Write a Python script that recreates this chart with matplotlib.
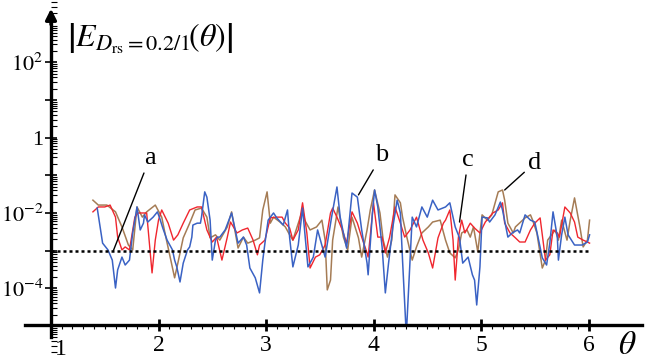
import numpy as np
import matplotlib.pyplot as plt
from matplotlib.ticker import FixedLocator, LogLocator, NullFormatter, FixedFormatter

plt.rcParams['font.family'] = ['Liberation Serif', 'DejaVu Serif']
plt.rcParams['mathtext.fontset'] = 'stix'

# curve data: theta and log10|E|
theta_blue = [1.43, 1.48, 1.53, 1.57, 1.60, 1.62, 1.66, 1.69, 1.73, 1.76, 1.80, 1.83, 1.86, 1.87, 1.90,
              1.95, 1.99, 2.01, 2.04, 2.08, 2.13, 2.15, 2.17, 2.20, 2.23, 2.27, 2.29, 2.31, 2.32, 2.36,
              2.39, 2.40, 2.43, 2.45, 2.48, 2.50, 2.53, 2.55, 2.57, 2.62, 2.68, 2.74, 2.79, 2.82, 2.85,
              2.90, 2.94, 2.97, 2.99, 3.02, 3.07, 3.10, 3.16, 3.20, 3.22, 3.25, 3.30, 3.34, 3.39, 3.44,
              3.48, 3.55, 3.61, 3.66, 3.69, 3.72, 3.75, 3.80, 3.85, 3.89, 3.94, 3.95, 3.99, 4.01, 4.04,
              4.08, 4.11, 4.14, 4.18, 4.22, 4.25, 4.27, 4.30, 4.31, 4.36, 4.40, 4.45, 4.50, 4.55, 4.60,
              4.67, 4.71, 4.76, 4.80, 4.83, 4.88, 4.92, 4.94, 4.96, 4.99, 5.01, 5.06, 5.08, 5.13, 5.18,
              5.20, 5.25, 5.29, 5.34, 5.36, 5.41, 5.46, 5.50, 5.53, 5.57, 5.61, 5.64, 5.67, 5.71, 5.72,
              5.75, 5.78, 5.81, 5.87, 5.94, 5.99, 6.01]
log_blue = [-1.87, -2.80, -2.98, -3.25, -3.99, -3.51, -3.17, -3.38, -3.25, -2.53, -1.84, -2.45, -2.27, -2.05, -2.24,
            -2.11, -1.97, -2.13, -2.40, -2.72, -2.98, -3.25, -3.43, -3.83, -3.33, -2.98, -2.90, -2.64, -2.32, -2.27,
            -2.27, -2.11, -1.44, -1.58, -2.19, -3.25, -2.72, -2.64, -2.64, -2.45, -2.00, -2.80, -2.64, -2.85, -3.46,
            -3.72, -4.12, -3.25, -2.80, -2.19, -2.00, -2.13, -2.32, -1.92, -2.66, -3.43, -2.85, -1.87, -3.43, -3.17,
            -2.45, -3.17, -2.11, -1.31, -2.11, -2.53, -2.93, -1.47, -1.58, -2.45, -3.33, -3.64, -2.00, -1.39, -1.84,
            -2.90, -4.12, -3.33, -2.37, -1.66, -2.00, -3.25, -4.96, -4.96, -2.11, -2.37, -1.84, -2.11, -1.66, -1.92,
            -1.84, -1.73, -2.37, -2.66, -3.33, -3.17, -3.64, -3.78, -4.44, -3.43, -2.11, -2.13, -2.24, -2.05, -1.71,
            -1.92, -2.64, -2.53, -2.45, -2.53, -2.05, -2.19, -2.24, -2.64, -3.19, -3.38, -2.80, -1.97, -2.64, -3.25,
            -2.58, -2.11, -2.58, -2.85, -2.85, -2.77, -2.58]

theta_red = [1.39, 1.44, 1.50, 1.55, 1.60, 1.62, 1.66, 1.69, 1.73, 1.78, 1.81, 1.85, 1.89, 1.94, 1.97,
             2.00, 2.03, 2.09, 2.14, 2.18, 2.23, 2.29, 2.36, 2.40, 2.45, 2.50, 2.54, 2.59, 2.64, 2.67,
             2.73, 2.78, 2.83, 2.88, 2.92, 2.94, 2.99, 3.04, 3.10, 3.15, 3.18, 3.22, 3.25, 3.30, 3.34,
             3.38, 3.41, 3.46, 3.50, 3.55, 3.60, 3.62, 3.66, 3.71, 3.75, 3.80, 3.85, 3.89, 3.94, 3.95,
             4.00, 4.04, 4.08, 4.11, 4.15, 4.20, 4.25, 4.29, 4.34, 4.40, 4.46, 4.51, 4.55, 4.60, 4.65,
             4.67, 4.71, 4.74, 4.76, 4.79, 4.82, 4.85, 4.90, 4.94, 4.99, 5.04, 5.11, 5.16, 5.20, 5.22,
             5.27, 5.32, 5.36, 5.41, 5.46, 5.50, 5.55, 5.60, 5.64, 5.67, 5.71, 5.73, 5.78, 5.83, 5.87,
             5.90, 5.95, 5.99, 6.01]
log_red = [-1.97, -1.84, -1.84, -1.79, -2.11, -2.64, -2.98, -2.90, -2.98, -2.11, -2.00, -2.00, -2.00, -3.59, -2.72,
           -2.19, -1.92, -2.27, -2.72, -2.58, -2.27, -1.92, -1.84, -1.84, -2.45, -2.77, -2.64, -3.25, -2.64, -2.24,
           -2.53, -2.45, -2.40, -2.72, -3.11, -2.85, -2.72, -2.13, -2.11, -2.11, -2.27, -2.40, -2.72, -2.45, -1.73,
           -2.53, -3.46, -3.17, -3.11, -2.85, -2.00, -1.87, -2.11, -2.45, -2.80, -1.97, -2.27, -2.64, -3.06, -3.17,
           -1.73, -2.64, -2.64, -3.06, -2.64, -1.84, -2.27, -2.64, -2.45, -2.11, -2.72, -3.06, -3.46, -2.66, -2.27,
           -2.19, -1.92, -2.72, -3.78, -2.64, -2.19, -2.53, -2.27, -2.40, -2.53, -2.24, -2.00, -1.92, -1.73, -2.27,
           -2.53, -2.66, -2.77, -2.77, -2.45, -2.27, -2.13, -3.25, -3.11, -2.45, -2.53, -2.64, -1.84, -2.00, -2.24,
           -2.64, -2.72, -2.77, -2.80]

theta_brown = [1.39, 1.44, 1.52, 1.60, 1.66, 1.72, 1.76, 1.80, 1.85, 1.89, 1.97, 2.03, 2.06, 2.11, 2.15,
               2.18, 2.23, 2.29, 2.34, 2.40, 2.45, 2.48, 2.53, 2.57, 2.64, 2.68, 2.74, 2.79, 2.83, 2.90,
               2.94, 2.97, 3.01, 3.04, 3.07, 3.13, 3.18, 3.22, 3.25, 3.34, 3.36, 3.41, 3.47, 3.52, 3.55,
               3.57, 3.60, 3.62, 3.67, 3.72, 3.76, 3.80, 3.86, 3.89, 3.94, 3.97, 4.01, 4.06, 4.09, 4.13,
               4.17, 4.20, 4.25, 4.27, 4.31, 4.36, 4.40, 4.45, 4.51, 4.55, 4.62, 4.67, 4.71, 4.76, 4.79,
               4.82, 4.87, 4.90, 4.93, 4.97, 5.01, 5.06, 5.10, 5.16, 5.20, 5.22, 5.25, 5.30, 5.32, 5.41,
               5.46, 5.48, 5.52, 5.57, 5.60, 5.62, 5.69, 5.72, 5.75, 5.80, 5.83, 5.87, 5.92, 5.95, 5.99,
               6.01]
log_brown = [-1.66, -1.79, -1.79, -1.97, -2.37, -2.85, -2.98, -1.84, -2.11, -1.97, -1.79, -2.11, -2.53, -3.19, -3.72,
             -3.33, -2.66, -2.27, -1.92, -1.87, -2.11, -2.66, -2.58, -2.72, -2.37, -1.97, -2.93, -2.64, -2.80, -2.72,
             -2.66, -1.92, -1.44, -2.27, -2.11, -2.24, -2.37, -2.58, -2.72, -1.92, -2.19, -2.45, -2.37, -2.19, -2.72,
             -4.04, -3.78, -2.72, -1.84, -2.64, -2.98, -2.11, -2.66, -3.17, -2.45, -1.92, -1.39, -2.00, -2.72, -3.17,
             -2.72, -1.52, -1.73, -2.11, -2.64, -3.25, -2.90, -2.53, -2.37, -2.24, -2.19, -2.72, -3.06, -3.19, -2.98,
             -2.53, -2.45, -2.64, -2.37, -3.03, -2.05, -2.19, -2.05, -1.44, -1.39, -1.66, -2.27, -2.53, -2.37, -2.13,
             -2.05, -2.19, -2.53, -3.46, -3.25, -2.72, -2.45, -2.72, -2.19, -2.72, -2.19, -1.60, -2.37, -2.90, -2.72,
             -2.19]

threshold = 1e-3
x_ticks = [1, 2, 3, 4, 5, 6]
y_tick_labels = [r'$10^{2}$', '1', r'$10^{-2}$', r'$10^{-4}$']
labels = ['a', 'b', 'c', 'd']
label_points = [(1.58, 10 ** -3.0), (3.86, 10 ** -1.52), (4.80, 10 ** -2.24), (5.22, 10 ** -1.39)]
label_text_pos = [(1.92, 10 ** -0.54), (4.08, 10 ** -0.46), (4.88, 10 ** -0.59), (5.50, 10 ** -0.67)]

fig = plt.figure(figsize=(6.6, 3.6), dpi=100)
ax = fig.add_axes([0, 0, 1, 1])
ax.set_yscale('log')
ax.set_xlim(0.5256, 6.665)
ax.set_ylim(10 ** -5.90, 10 ** 3.65)
ax.patch.set_alpha(0)

ax.plot(theta_brown, 10 ** np.array(log_brown), color='#a57c55', lw=1.1)
ax.plot(theta_red, 10 ** np.array(log_red), color='#f0262e', lw=1.0)
ax.plot(theta_blue, 10 ** np.array(log_blue), color='#3a62c4', lw=1.1)
ax.plot([1, 6], [threshold, threshold], color='black', ls=(0, (1.2, 1.2)), lw=1.8)

x_axis_y = 10 ** -4.97
ax.spines['top'].set_visible(False)
ax.spines['right'].set_visible(False)
ax.spines['left'].set_position(('data', 1.0))
ax.spines['bottom'].set_position(('data', x_axis_y))
ax.spines['left'].set_bounds(10 ** -5.3, 10 ** 3.2)
ax.spines['bottom'].set_bounds(0.76, 6.5)
for s in ['left', 'bottom']:
    ax.spines[s].set_linewidth(2.4)
ax.annotate('', xy=(6.67, x_axis_y), xytext=(6.4, x_axis_y),
            arrowprops=dict(arrowstyle='-|>', color='black', lw=2.4, mutation_scale=16, shrinkA=0, shrinkB=0))
ax.annotate('', xy=(1.0, 10 ** 3.42), xytext=(1.0, 10 ** 3.0),
            arrowprops=dict(arrowstyle='-|>', color='black', lw=2.4, mutation_scale=16, shrinkA=0, shrinkB=0))

ax.xaxis.set_major_locator(FixedLocator(x_ticks))
ax.xaxis.set_minor_locator(FixedLocator(np.arange(1.1, 6.05, 0.1)))
ax.set_xticklabels([''] + [str(t) for t in x_ticks[1:]])
ax.tick_params(axis='x', which='major', direction='inout', length=9, width=2, labelsize=17, pad=3)
ax.tick_params(axis='x', which='minor', direction='out', length=3, width=0.8)
ax.text(1.035, 10 ** -5.62, str(x_ticks[0]), fontsize=17, ha='left', va='center')

ax.yaxis.set_major_locator(FixedLocator([10.0 ** k for k in range(-5, 3)]))
ax.yaxis.set_major_formatter(FixedFormatter(['', y_tick_labels[3], '', y_tick_labels[2], '', y_tick_labels[1], '', y_tick_labels[0]]))
ax.yaxis.set_minor_locator(LogLocator(base=10, subs=np.arange(2, 10), numticks=20))
ax.yaxis.set_minor_formatter(NullFormatter())
ax.tick_params(axis='y', which='major', direction='inout', length=9, width=1.2, labelsize=16, pad=1)
ax.tick_params(axis='y', which='minor', direction='in', length=4, width=0.8)

for lab, pt, tp in zip(labels, label_points, label_text_pos):
    ax.annotate(lab, xy=pt, xytext=tp, fontsize=19, ha='center', va='center',
                arrowprops=dict(arrowstyle='-', color='black', lw=1.0, shrinkA=1, shrinkB=0))

ax.text(1.15, 10 ** 2.62, r'$\left|E_{D_{\mathrm{rs}}=0.2/1}\!\left(\theta\right)\right|$', fontsize=23,
        ha='left', va='center')
ax.text(6.36, 10 ** -5.52, r'$\theta$', fontsize=24, ha='center', va='center')

fig.savefig('out.png', dpi=100)
